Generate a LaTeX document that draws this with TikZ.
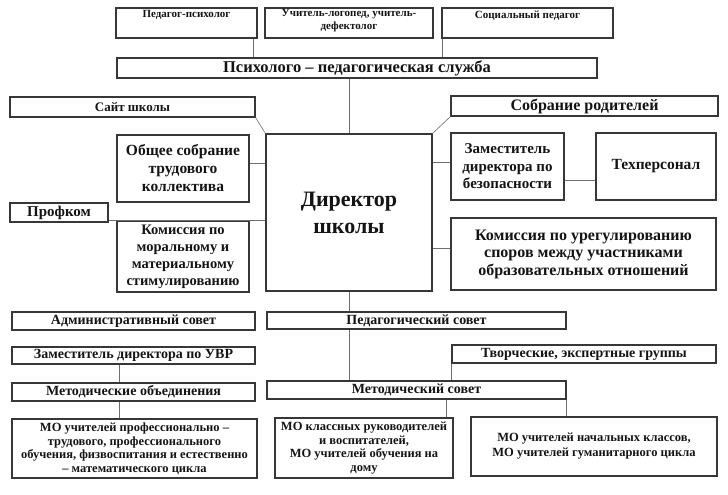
\documentclass[tikz,border=0pt]{standalone}
\usepackage{fontspec}
\setmainfont{Liberation Serif}
\usepackage{xcolor}
\definecolor{frame}{RGB}{55,55,55}
\definecolor{link}{RGB}{110,110,110}
\definecolor{ink}{RGB}{20,20,20}
\usepackage{tikz}
\usetikzlibrary{
    arrows.meta,
    positioning,
    calc
}

\tikzset{
    box/.style={draw=frame, line width=1.1pt, fill=white, inner sep=0pt, align=center, text=ink},
    wh/.style 2 args={minimum width=#1pt, minimum height=#2pt},
    fs/.style 2 args={font=\fontsize{#1}{#2}\selectfont\bfseries},
    toptext/.style={fs={11}{13}, text=ink, inner sep=0pt, align=center},
    link/.style={draw=link, line width=0.6pt}
}

\begin{document}
\begin{tikzpicture}[x=1pt, y=-1pt]
    \useasboundingbox (0,0) rectangle (728,495);

    \node[box, wh={141}{30}] (pedpsy) at (186.5,23) {};
    \node[toptext, below=3pt of pedpsy.north] (pedpsy-t) {Педагог-психолог};
    \node[box, wh={168}{30}] (logoped) at (349,23) {};
    \node[toptext, below=2pt of logoped.north] (logoped-t) {Учитель-логопед, учитель-\\дефектолог};
    \node[box, wh={171}{30}] (socped) at (527.5,23) {};
    \node[toptext, below=3pt of socped.north] (socped-t) {Социальный педагог};

    \node[box, fs={16.5}{18}, wh={480}{20}] (psysrv) at (357,68) {Психолого -- педагогическая служба};

    \node[box, fs={13}{16}, wh={245}{20}] (site) at (132.5,107) {Сайт школы};
    \node[box, fs={16}{18}, wh={267}{20}] (parents) at (584.5,106) {Собрание родителей};

    \node[box, fs={22}{27}, wh={166}{157}] (director) at (349,212.5) {Директор\\школы};

    \node[box, fs={15.5}{18}, wh={132}{67}] (general) at (183,168.5) {Общее собрание\\трудового\\коллектива};
    \node[box, fs={15}{17}, wh={98}{19}] (profkom) at (59,212.5) {Профком};
    \node[box, fs={14.5}{17}, wh={132}{71}] (morale) at (183,256.5) {Комиссия по\\моральному и\\материальному\\стимулированию};

    \node[box, fs={15}{17.5}, wh={113}{67}] (safety) at (507.5,166.5) {Заместитель\\директора по\\безопасности};
    \node[box, fs={15.5}{18}, wh={120}{67}] (tech) at (656,166.5) {Техперсонал};
    \node[box, fs={16}{17.5}, wh={265}{72}] (disputes) at (583.5,254) {Комиссия по урегулированию\\споров между участниками\\образовательных отношений};

    \node[box, fs={14}{16}, wh={243}{18}] (admin) at (133.5,321) {Административный совет};
    \node[box, fs={14}{16}, wh={299}{17}] (pedsov) at (416.5,320.5) {Педагогический совет};
    \node[box, fs={14}{16}, wh={243}{17}] (uvr) at (133.5,355.5) {Заместитель директора по УВР};
    \node[box, fs={14}{16}, wh={264}{18}] (creative) at (584,354) {Творческие, экспертные группы};
    \node[box, fs={14}{16}, wh={243}{18}] (metob) at (133.5,392) {Методические объединения};
    \node[box, fs={14}{16}, wh={299}{18}] (metsov) at (416.5,390) {Методический совет};

    \node[box, fs={12.5}{13.5}, wh={245}{59}] (moprof) at (134.5,448.5) {МО учителей профессионально --\\трудового, профессионального\\обучения, физвоспитания и естественно\\-- математического цикла};
    \node[box, fs={12.5}{13.8}, wh={178}{60}] (moclass) at (364,448) {МО классных руководителей\\и воспитателей,\\МО учителей обучения на\\дому};
    \node[box, fs={12.5}{15}, wh={246}{59}] (moprim) at (594,446.5) {МО учителей начальных классов,\\МО учителей гуманитарного цикла};

    \draw[link] ([xshift=-4pt]pedpsy.south east) -- ([xshift=-4pt]pedpsy.south east |- psysrv.north);
    \draw[link] ([xshift=1pt]socped.south west) -- ([xshift=1pt]socped.south west |- psysrv.north);
    \draw[link] (director.north |- psysrv.south) -- (director.north);
    \draw[link] (site.south east) -- (director.north west);
    \draw[link] (parents.south west) -- (director.north east);
    \draw[link] ([yshift=5pt]general.east) -- ([yshift=5pt]general.east -| director.west);
    \draw[link] ([yshift=2pt]profkom.south east) -- ([yshift=2pt]profkom.south east -| director.west);
    \draw[link] ([yshift=4.5pt]safety.west) -- ([yshift=4.5pt]safety.west -| director.east);
    \draw[link] ([yshift=-13.5pt]safety.east) -- ([yshift=-13.5pt]safety.east -| tech.west);
    \draw[link] ([yshift=6pt]disputes.west) -- ([yshift=6pt]disputes.west -| director.east);
    \draw[link] (director.south) -- (director.south |- pedsov.north);
    \draw[link] (director.south |- pedsov.south) -- (director.south |- metsov.north);
    \draw[link] (creative.south west) -- (creative.south west |- metsov.north);
    \draw[link] ([xshift=-7pt]moclass.north east |- metsov.south) -- ([xshift=-7pt]moclass.north east);
    \draw[link] (metsov.south east) -- (metsov.south east |- moprim.north);
    \draw[link] ([xshift=-14pt]uvr.south) -- ([xshift=-14pt]metob.north);
    \draw[link] ([xshift=-14pt]metob.south) -- ([xshift=-14pt]metob.south |- moprof.north);
\end{tikzpicture}
\end{document}
